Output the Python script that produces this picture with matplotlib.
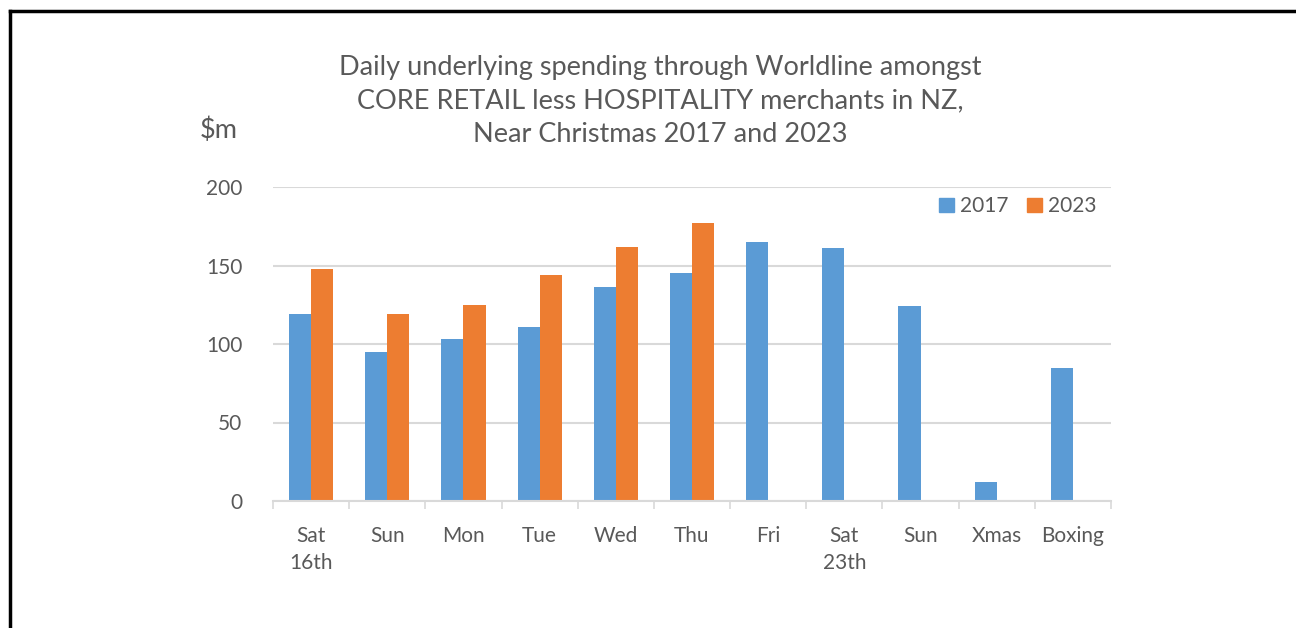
import matplotlib.pyplot as plt
import numpy as np
from matplotlib.lines import Line2D
from matplotlib.patches import Patch

days = ["Sat\n16th", "Sun", "Mon", "Tue", "Wed", "Thu", "Fri", "Sat\n23th", "Sun", "Xmas", "Boxing"]
spend_2017 = [119, 95, 103, 111, 136, 145, 165, 161, 124, 12, 85]
spend_2023 = [148, 119, 125, 144, 162, 177]
y_ticks = [0, 50, 100, 150, 200]

BLUE = "#5B9BD5"
ORANGE = "#ED7D31"
TEXT = "#595959"
GRID = "#D9D9D9"

plt.rcParams["font.family"] = ["Lato", "DejaVu Sans"]

W, H = 1296, 628
fig = plt.figure(figsize=(W / 100, H / 100), dpi=100)
ax = fig.add_axes([273 / W, 1 - 501 / H, (1111 - 273) / W, (501 - 187) / H])

bw = 0.29
x = np.arange(len(days))
ax.bar(x - bw / 2, spend_2017, width=bw, color=BLUE, label="2017", zorder=3)
ax.bar(x[: len(spend_2023)] + bw / 2, spend_2023, width=bw, color=ORANGE, label="2023", zorder=3)

ax.set_xlim(-0.5, len(days) - 0.5)
ax.set_ylim(0, 200)
ax.set_yticks(y_ticks)
ax.set_xticks(x)
ax.set_xticklabels(days, linespacing=1.45)
ax.set_xticks(np.arange(len(days) + 1) - 0.5, minor=True)
ax.tick_params(axis="x", which="major", length=0, pad=18, labelsize=15, labelcolor=TEXT)
ax.tick_params(axis="x", which="minor", length=6, width=1.2, color=GRID, direction="out")
ax.tick_params(axis="y", length=0, pad=22, labelsize=15, labelcolor=TEXT)
ax.grid(axis="y", color=GRID, linewidth=1.5, zorder=0)
for s in ["top", "right", "left"]:
    ax.spines[s].set_visible(False)
ax.spines["bottom"].set_color(GRID)
ax.spines["bottom"].set_linewidth(1.5)
ax.spines["bottom"].set_zorder(4)

handles = [Patch(color=BLUE), Patch(color=ORANGE)]
ax.legend(handles, ["2017", "2023"], loc="upper right", bbox_to_anchor=(1.005, 1.03), ncol=2,
          frameon=False, fontsize=15, labelcolor=TEXT, handlelength=0.7, handleheight=0.7,
          handletextpad=0.3, columnspacing=0.9)

fig.text(660 / W, 1 - 101 / H,
         "Daily underlying spending through Worldline amongst\n"
         "CORE RETAIL less HOSPITALITY merchants in NZ,\n"
         "Near Christmas 2017 and 2023",
         ha="center", va="center", fontsize=19.5, color=TEXT, linespacing=1.45)
fig.text(219 / W, 1 - 130 / H, "$m", ha="center", va="center", fontsize=19.5, color=TEXT)

# frame lines (top and left only, as in the screenshot)
fig.add_artist(Line2D([10 / W, 1], [1 - 11 / H, 1 - 11 / H], color="black", linewidth=2.5))
fig.add_artist(Line2D([10 / W, 10 / W], [0, 1 - 11 / H], color="black", linewidth=2.5))

fig.savefig("out.png", dpi=100)
